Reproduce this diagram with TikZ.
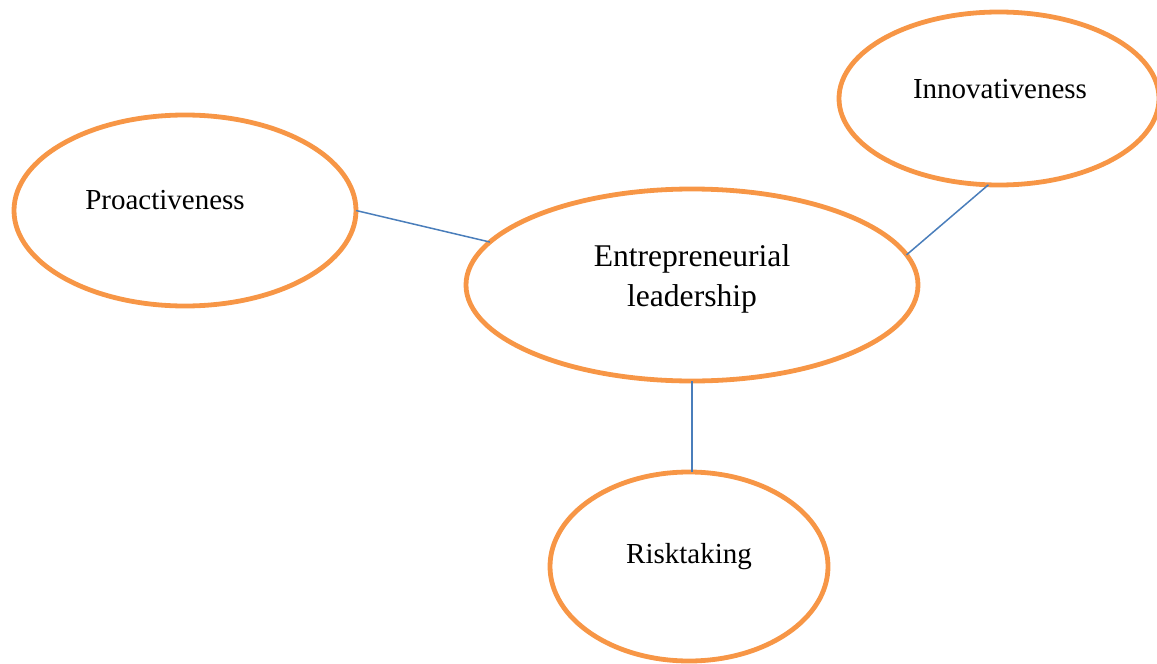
\documentclass[tikz,border=0pt]{standalone}
\usepackage{fontspec}
\setmainfont{Liberation Serif}
\usetikzlibrary{shapes.geometric}

\definecolor{ringorange}{HTML}{F79646}
\definecolor{linkblue}{HTML}{4A7EBB}

\tikzset{
	ring/.style={ellipse, draw=ringorange, line width=2.4pt, inner sep=0pt, outer sep=0pt},
	word/.style={font=\fontsize{14.5}{20}\selectfont, align=center, inner sep=0pt},
	link/.style={draw=linkblue, line width=0.75pt}
}

\begin{document}
\begin{tikzpicture}[x=0.5pt, y=-0.5pt]

	\useasboundingbox (0,0) rectangle (1157,664);

	% the four ellipses
	\node[ring, minimum width=171pt, minimum height=95.5pt] (pro) at (185,210.5) {};
	\node[ring, minimum width=226pt, minimum height=96pt] (lead) at (692,285) {};
	\node[ring, minimum width=160pt, minimum height=86.5pt] (innov) at (999,98.5) {};
	\node[ring, minimum width=139pt, minimum height=94.5pt] (risk) at (689,566.5) {};

	% their texts
	\node[word] (pro-text) at (165,200) {Proactiveness};
	\node[word, font=\fontsize{15.8}{20}\selectfont] (lead-text) at (692,279) {Entrepreneurial\\leadership};
	\node[word] (innov-text) at (1000,89) {Innovativeness};
	\node[word] (risk-text) at (689,557) {Risktaking};

	% links to the centre
	\draw[link] (pro.east) -- (lead.168);
	\draw[link] (innov.263) -- (lead.8.5);
	\draw[link] (lead.south) -- (lead.south |- risk.north);

\end{tikzpicture}
\end{document}
